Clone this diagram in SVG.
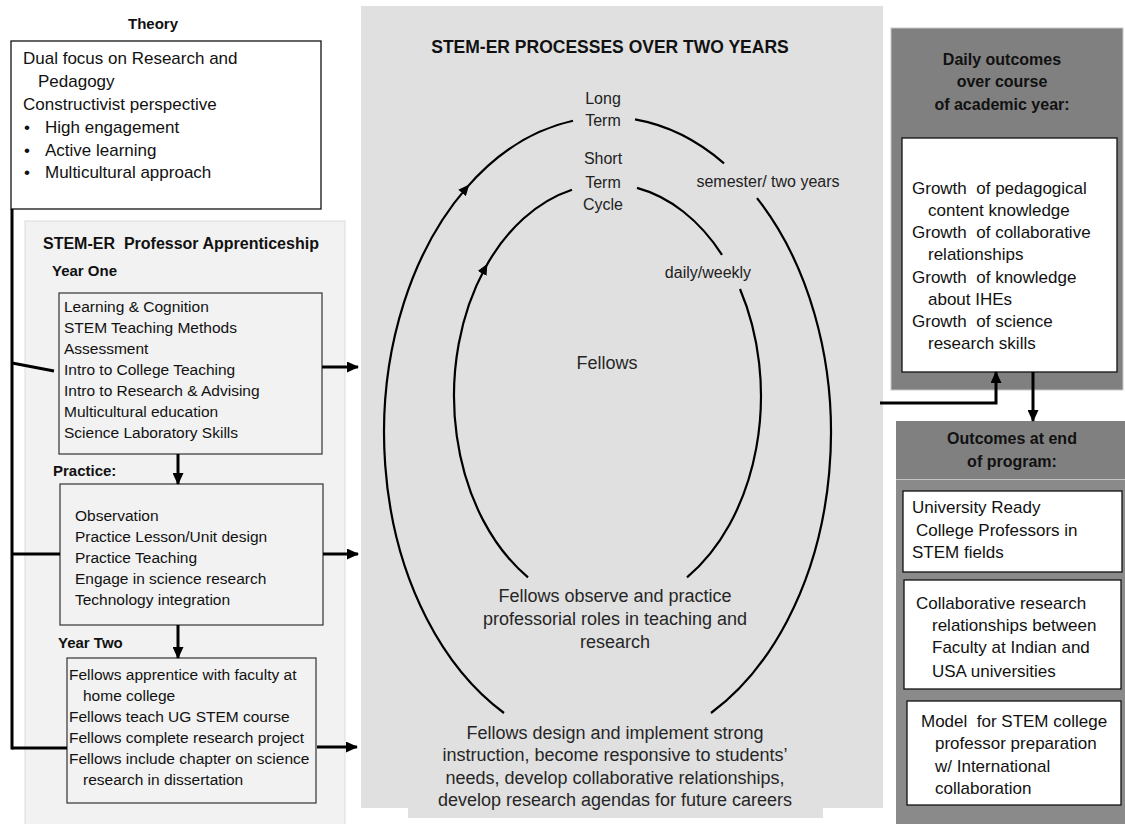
<svg xmlns="http://www.w3.org/2000/svg" width="1125" height="824" viewBox="0 0 1125 824">
<defs>
<style>
.t{font-family:"Liberation Sans",Arial,sans-serif;font-size:15.5px;fill:#111}
.tl{font-family:"Liberation Sans",Arial,sans-serif;font-size:17px;fill:#111}
.b{font-family:"Liberation Sans",Arial,sans-serif;font-weight:bold;fill:#111}
.c{font-family:"Liberation Sans",Arial,sans-serif;font-size:16px;fill:#222;text-anchor:middle}
.a{font-family:"Liberation Sans",Arial,sans-serif;font-size:18px;fill:#262626;text-anchor:middle}
.box{fill:#f2f2f2;stroke:#333;stroke-width:1.2}
.wbox{fill:#fff;stroke:#111;stroke-width:1.3}
.conn{fill:none;stroke:#000;stroke-width:3}
.arc{fill:none;stroke:#000;stroke-width:2.2}
</style>
<marker id="arr" markerUnits="userSpaceOnUse" markerWidth="12" markerHeight="11" viewBox="0 0 12 11" refX="11" refY="5.5" orient="auto">
<path d="M0,0 L12,5.5 L0,11 z" fill="#000"/>
</marker>
<marker id="arrs" markerUnits="userSpaceOnUse" markerWidth="11" markerHeight="10" viewBox="0 0 11 10" refX="6" refY="5" orient="auto">
<path d="M0,0 L11,5 L0,10 z" fill="#000"/>
</marker>
</defs>
<rect width="1125" height="824" fill="#fff"/>

<g id="theory">
<text class="b" x="153" y="29" font-size="15" text-anchor="middle">Theory</text>
<rect class="wbox" x="11" y="41" width="310" height="168"/>
<text class="tl" x="23" y="64">Dual focus on  Research and</text>
<text class="tl" x="38" y="87">Pedagogy</text>
<text class="tl" x="23" y="110">Constructivist perspective</text>
<text class="tl" x="24" y="133">•</text><text class="tl" x="45" y="133">High engagement</text>
<text class="tl" x="24" y="156">•</text><text class="tl" x="45" y="156">Active learning</text>
<text class="tl" x="24" y="178">•</text><text class="tl" x="45" y="178">Multicultural approach</text>
</g>

<g id="apprenticeship">
<rect x="25" y="221" width="320" height="604" fill="#f2f2f2" stroke="#dcdcdc" stroke-width="1"/>
<text class="b" x="43" y="249" font-size="16" style="white-space:pre">STEM-ER  Professor Apprenticeship</text>
</g>

<g id="year-one">
<text class="b" x="52" y="276" font-size="15">Year One</text>
<rect class="box" x="59" y="293" width="263" height="161"/>
<text class="t" x="64" y="312">Learning &amp; Cognition</text>
<text class="t" x="64" y="333">STEM Teaching Methods</text>
<text class="t" x="64" y="354">Assessment</text>
<text class="t" x="64" y="375">Intro to College Teaching</text>
<text class="t" x="64" y="396">Intro to Research &amp; Advising</text>
<text class="t" x="64" y="417">Multicultural education</text>
<text class="t" x="64" y="438">Science Laboratory Skills</text>
</g>

<g id="practice">
<text class="b" x="53" y="476" font-size="15">Practice:</text>
<rect class="box" x="60" y="484" width="263" height="141"/>
<text class="t" x="75" y="521">Observation</text>
<text class="t" x="75" y="542">Practice Lesson/Unit design</text>
<text class="t" x="75" y="563">Practice Teaching</text>
<text class="t" x="75" y="584">Engage in science research</text>
<text class="t" x="75" y="605">Technology integration</text>
</g>

<g id="year-two">
<text class="b" x="58" y="648" font-size="15">Year Two</text>
<rect class="box" x="67" y="658" width="249" height="145"/>
<text class="t" x="69" y="680">Fellows apprentice with faculty at</text>
<text class="t" x="83" y="701">home college</text>
<text class="t" x="69" y="722">Fellows teach UG STEM  course</text>
<text class="t" x="69" y="743">Fellows complete research project</text>
<text class="t" x="69" y="764">Fellows include chapter on science</text>
<text class="t" x="83" y="785">research in dissertation</text>
</g>

<g id="processes">
<rect x="361" y="6" width="522" height="802" fill="#e0e0e0"/>
<rect x="408" y="716" width="415" height="102" fill="#e0e0e0"/>
<text class="b" x="610" y="53" font-size="17.5" text-anchor="middle">STEM-ER PROCESSES OVER TWO YEARS</text>
<text class="c" x="603" y="104">Long</text>
<text class="c" x="603" y="126">Term</text>
<text class="c" x="603" y="164">Short</text>
<text class="c" x="603" y="188">Term</text>
<text class="c" x="603" y="210">Cycle</text>
<text class="c" x="768" y="187" style="white-space:pre">semester/ two years</text>
<text class="c" x="708" y="278">daily/weekly</text>
<text class="a" x="607" y="369">Fellows</text>
<text class="a" x="615" y="602">Fellows observe and practice</text>
<text class="a" x="615" y="625">professorial roles in teaching and</text>
<text class="a" x="615" y="648">research</text>
<text class="a" x="615" y="739">Fellows design and implement strong</text>
<text class="a" x="615" y="761">instruction, become responsive to students’</text>
<text class="a" x="615" y="784">needs, develop collaborative relationships,</text>
<text class="a" x="615" y="806">develop research agendas for future careers</text>
</g>

<g id="cycles">
<path class="arc" d="M504,713 A223.5,316 0 0 1 466,188.4" marker-end="url(#arrs)"/>
<path class="arc" d="M466,188.4 A223.5,316 0 0 1 573,120.8"/>
<path class="arc" d="M635,119.4 A223.5,316 0 0 1 724,163.3"/>
<path class="arc" d="M757,198.1 A223.5,316 0 0 1 711,713"/>
<path class="arc" d="M528,577.3 A153.5,212 0 0 1 485,268.2" marker-end="url(#arrs)"/>
<path class="arc" d="M485,268.2 A153.5,212 0 0 1 572,189.7"/>
<path class="arc" d="M637,187.9 A153.5,212 0 0 1 722,254.8"/>
<path class="arc" d="M740,289 A153.5,212 0 0 1 687,577.3"/>
</g>

<g id="daily-outcomes">
<rect x="891" y="28" width="232" height="362" fill="#808080" stroke="#c8c8c8" stroke-width="1"/>
<text class="b" x="1002" y="65" font-size="16" text-anchor="middle">Daily outcomes</text>
<text class="b" x="1002" y="87" font-size="16" text-anchor="middle">over course</text>
<text class="b" x="1002" y="110" font-size="16" text-anchor="middle">of academic year:</text>
<rect class="wbox" x="902" y="138" width="215" height="234"/>
<text class="tl" x="912" y="194" style="white-space:pre">Growth  of pedagogical</text>
<text class="tl" x="928" y="216">content knowledge</text>
<text class="tl" x="912" y="238" style="white-space:pre">Growth  of collaborative</text>
<text class="tl" x="928" y="260">relationships</text>
<text class="tl" x="912" y="283" style="white-space:pre">Growth  of knowledge</text>
<text class="tl" x="928" y="305">about IHEs</text>
<text class="tl" x="912" y="327" style="white-space:pre">Growth  of science</text>
<text class="tl" x="928" y="349">research skills</text>
</g>

<g id="end-outcomes">
<rect x="896" y="421" width="229" height="403" fill="#8a8a8a"/>
<rect x="896" y="421" width="229" height="58" fill="#808080"/>
<line x1="896" y1="479.5" x2="1125" y2="479.5" stroke="#c4c4c4" stroke-width="1"/>
<text class="b" x="1012" y="444" font-size="16" text-anchor="middle">Outcomes at end</text>
<text class="b" x="1012" y="467" font-size="16" text-anchor="middle">of program:</text>
<rect class="wbox" x="903" y="491" width="219" height="81"/>
<text class="tl" x="912" y="513">University Ready</text>
<text class="tl" x="916" y="536">College Professors in</text>
<text class="tl" x="912" y="558">STEM fields</text>
<rect class="wbox" x="904" y="580" width="217" height="109"/>
<text class="tl" x="916" y="609">Collaborative research</text>
<text class="tl" x="932" y="631">relationships between</text>
<text class="tl" x="932" y="653">Faculty at Indian and</text>
<text class="tl" x="932" y="677">USA universities</text>
<rect class="wbox" x="907" y="701" width="214" height="104"/>
<text class="tl" x="921" y="727" style="white-space:pre">Model  for STEM college</text>
<text class="tl" x="935" y="749">professor preparation</text>
<text class="tl" x="935" y="772">w/ International</text>
<text class="tl" x="935" y="794">collaboration</text>
</g>

<g id="connectors">
<line class="conn" x1="12" y1="209" x2="12" y2="749.5"/>
<line class="conn" x1="12" y1="363" x2="54" y2="371"/>
<line class="conn" x1="12" y1="554" x2="60" y2="554"/>
<line class="conn" x1="12" y1="748" x2="67" y2="748"/>
<line class="conn" x1="322" y1="367" x2="358" y2="367" marker-end="url(#arr)"/>
<line class="conn" x1="323" y1="554" x2="358" y2="554" marker-end="url(#arr)"/>
<line class="conn" x1="317" y1="747" x2="357" y2="747" marker-end="url(#arr)"/>
<line class="conn" x1="178" y1="454" x2="178" y2="484" marker-end="url(#arr)"/>
<line class="conn" x1="178" y1="625" x2="178" y2="658" marker-end="url(#arr)"/>
<polyline class="conn" points="880,403 996,403 996,372" marker-end="url(#arr)"/>
<line class="conn" x1="1033" y1="372" x2="1033" y2="421" marker-end="url(#arr)"/>
</g>
</svg>
